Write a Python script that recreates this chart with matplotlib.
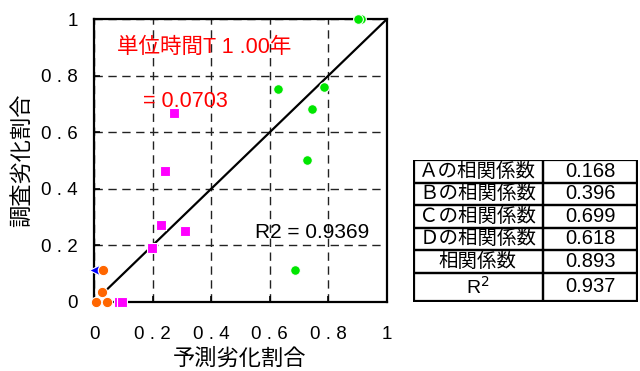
import matplotlib
matplotlib.use("Agg")
import matplotlib.pyplot as plt
import matplotlib.patches as mpatches

plt.rcParams["font.family"] = ["Liberation Sans", "Noto Sans CJK JP", "DejaVu Sans"]

# ── データ ────────────────────────────────────────────
A_x = [0.006, 0.045, 0.026, 0.032]
A_y = [0.0, 0.0, 0.036, 0.112]
B_x = [0.085, 0.097, 0.197, 0.229, 0.312, 0.243, 0.273]
B_y = [0.0, 0.0, 0.190, 0.273, 0.252, 0.464, 0.667]
C_x = [0.910, 0.902, 0.627, 0.784, 0.745, 0.726, 0.687]
C_y = [1.0, 1.0, 0.752, 0.759, 0.682, 0.501, 0.112]
D_x = [0.0]
D_y = [0.112]
FIT_X = [0.04, 1.0]
FIT_Y = [0.04, 1.0]

TICKS = [0, 0.2, 0.4, 0.6, 0.8, 1]
TICK_LABELS = ["0", "0 . 2", "0 . 4", "0 . 6", "0 . 8", "1"]

ROW_NAMES = ["Ａの相関係数", "Ｂの相関係数", "Ｃの相関係数", "Ｄの相関係数", "相関係数", "R$^{2}$"]
ROW_VALUES = ["0.168", "0.396", "0.699", "0.618", "0.893", "0.937"]

W, H = 640, 371
fig = plt.figure(figsize=(6.4, 3.71), dpi=100)
fig.patch.set_facecolor("white")

# 散布図本体 (ピクセル位置で配置)
L, R, T, B = 94, 387, 19, 302
ax = fig.add_axes([L / W, (H - B) / H, (R - L) / W, (B - T) / H])
ax.set_xlim(0, 1)
ax.set_ylim(0, 1)
ax.set_xticks(TICKS)
ax.set_yticks(TICKS)
ax.set_xticklabels(TICK_LABELS)
ax.set_yticklabels(TICK_LABELS)
ax.tick_params(axis="both", direction="in", length=4, width=1.2, labelsize=13.5)
ax.tick_params(axis="y", pad=11.5)
ax.tick_params(axis="x", pad=17)
ax.grid(True, color="#222222", linestyle=(0, (6, 4)), linewidth=1.0)
for sp in ax.spines.values():
    sp.set_linewidth(1.6)
    sp.set_color("black")

ax.plot(FIT_X, FIT_Y, color="black", lw=1.6, zorder=3)

mk = dict(linestyle="none", markeredgecolor="white", markeredgewidth=0.8,
          clip_on=False, zorder=4)
ax.plot(D_x, D_y, marker="<", color="#0000FF", ms=7, **mk)
ax.plot(A_x, A_y, marker="o", color="#FF6600", ms=7.5, **mk)
ax.plot(B_x, B_y, marker="s", color="#FF00FF", ms=7, **mk)
ax.plot(C_x, C_y, marker="o", color="#00E600", ms=7, **mk)

ax.text(0.077, 0.901, "単位時間T 1 .00年", color="#FF0000", fontsize=15.5,
        ha="left", va="center")
ax.text(0.167, 0.707, "= 0.0703", color="#FF0000", fontsize=15.5,
        ha="left", va="center")
ax.text(0.549, 0.245, "R2 = 0.9369", color="black", fontsize=15,
        ha="left", va="center")

# 軸ラベル
fig.text(240 / W, 1 - 359 / H, "予測劣化割合", fontsize=16,
         ha="center", va="center")
fig.text(23 / W, 1 - 160 / H, "調査劣化割合", fontsize=16,
         ha="center", va="center", rotation=90)

# ── 表 ───────────────────────────────────────────────
TL, TR, TT, TB = 412.7, 638, 160, 301.7
tax = fig.add_axes([TL / W, (H - TB) / H, (TR - TL) / W, (TB - TT) / H])
tax.set_xlim(TL, TR)
tax.set_ylim(TB, TT)
tax.axis("off")

row_edges = [160, 182.5, 205, 227.5, 250, 272.7, 300.5]
col_mid = 543
for i, (name, val) in enumerate(zip(ROW_NAMES, ROW_VALUES)):
    y0, y1 = row_edges[i], row_edges[i + 1]
    tax.add_patch(mpatches.Rectangle((TL + 1, y0), col_mid - TL - 1, y1 - y0,
                                     fill=False, ec="black", lw=1.6))
    tax.add_patch(mpatches.Rectangle((col_mid, y0), TR - col_mid - 1.5, y1 - y0,
                                     fill=False, ec="black", lw=1.6))
    ym = (y0 + y1) / 2
    tax.text((TL + col_mid) / 2, ym, name, fontsize=14, ha="center", va="center")
    tax.text((col_mid + TR) / 2, ym, val, fontsize=14.5, ha="center", va="center")

fig.savefig("out.png", dpi=100)
